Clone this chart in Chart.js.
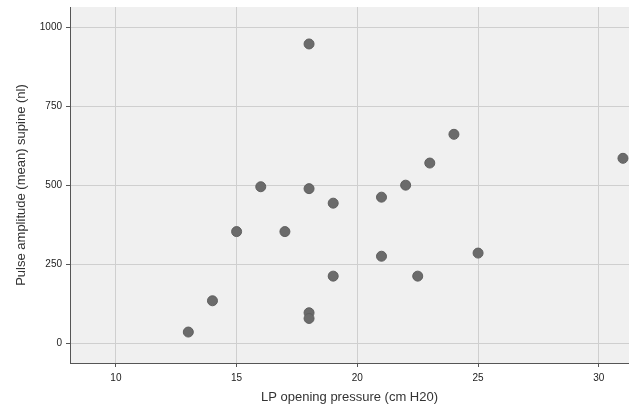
<!DOCTYPE html>
<html>
<head>
<meta charset="utf-8">
<script src="https://cdn.jsdelivr.net/npm/chart.js@4/dist/chart.umd.min.js"></script>
<style>
  html, body { margin: 0; padding: 0; background: #fff; }
  #wrap { width: 629px; height: 412px; }
</style>
</head>
<body>
<div id="wrap"><canvas id="scatter"></canvas></div>
<script>
// LP opening pressure (cm H20) vs pulse amplitude (nl)
var pressure  = [13, 14, 15, 16, 17, 18, 18, 18, 18, 19, 19, 21, 21, 22, 22.5, 23, 24, 25, 31];
var amplitude = [35, 134, 353, 495, 353, 947, 489, 96, 78, 443, 212, 462, 275, 500, 212, 570, 661, 285, 585];
var xTicks = [10, 15, 20, 25, 30];
var yTicks = [0, 250, 500, 750, 1000];

var points = [];
for (var i = 0; i < pressure.length; i++) {
    points.push({x: pressure[i], y: amplitude[i]});
}

var plotBackground = {
    id: 'plotBackground',
    beforeDraw: function(chart) {
        var a = chart.chartArea;
        var c = chart.ctx;
        c.save();
        c.fillStyle = '#f0f0f0';
        c.fillRect(a.left, a.top, a.right - a.left, a.bottom - a.top);
        c.restore();
    }
};

function keepTicks(list) {
    return function(scale) {
        scale.ticks = list.map(function(v) { return {value: v}; });
    };
}

var tickFont = {family: "'Liberation Sans', Arial, sans-serif", size: 10};
var titleFont = {family: "'Liberation Sans', Arial, sans-serif", size: 13};

new Chart(document.getElementById('scatter').getContext('2d'), {
    type: 'scatter',
    data: {
        datasets: [{
            data: points,
            backgroundColor: '#6b6b6b',
            borderColor: '#606060',
            borderWidth: 1,
            pointRadius: 5,
            pointHoverRadius: 5
        }]
    },
    options: {
        responsive: true,
        maintainAspectRatio: false,
        animation: false,
        layout: {autoPadding: false, padding: {top: 7, right: 0, left: 0, bottom: 0}},
        plugins: {
            legend: {display: false},
            tooltip: {enabled: false}
        },
        scales: {
            x: {
                type: 'linear',
                min: 8.1,
                max: 31.25,
                afterBuildTicks: keepTicks(xTicks),
                afterFit: function(scale) {
                    scale.height = 49;
                    scale.paddingLeft = 0;
                    scale.paddingRight = 0;
                },
                grid: {color: '#cfcfcf', tickColor: '#555', tickLength: 4},
                border: {display: true, color: '#555', width: 1},
                ticks: {font: tickFont, color: '#222', padding: 5, maxRotation: 0},
                title: {
                    display: true,
                    text: 'LP opening pressure (cm H20)',
                    font: titleFont,
                    color: '#333',
                    padding: {top: 0, bottom: 7}
                }
            },
            y: {
                type: 'linear',
                min: -63,
                max: 1064,
                afterBuildTicks: keepTicks(yTicks),
                afterFit: function(scale) {
                    scale.width = 70;
                    scale.paddingTop = 0;
                    scale.paddingBottom = 0;
                },
                grid: {color: '#cfcfcf', tickColor: '#555', tickLength: 4},
                border: {display: true, color: '#555', width: 1},
                ticks: {
                    font: tickFont,
                    color: '#222',
                    padding: 4,
                    callback: function(value) { return String(value); }
                },
                title: {
                    display: true,
                    text: 'Pulse amplitude (mean) supine (nl)',
                    font: titleFont,
                    color: '#333',
                    padding: {top: 14, bottom: 0}
                }
            }
        }
    },
    plugins: [plotBackground]
});
</script>
</body>
</html>
